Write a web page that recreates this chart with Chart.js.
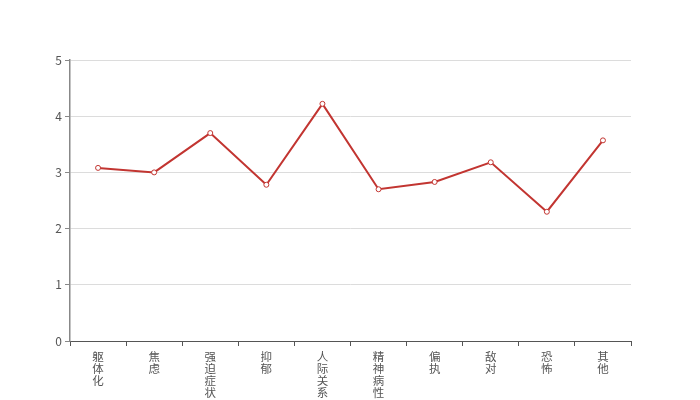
<!DOCTYPE html>
<html>
<head>
<meta charset="utf-8">
<script src="https://cdn.jsdelivr.net/npm/chart.js@4"></script>
<style>
  html, body { margin: 0; padding: 0; background: #fff; }
  #box { width: 700px; height: 400px; }
</style>
</head>
<body>
<div id="box"><canvas id="lineChart"></canvas></div>
<script>
// Categories and values
const categories = ['躯体化', '焦虑', '强迫症状', '抑郁', '人际关系', '精神病性', '偏执', '敌对', '恐怖', '其他'];
const scores = [3.08, 3.00, 3.70, 2.78, 4.22, 2.70, 2.83, 3.18, 2.30, 3.57];
const yTicks = [0, 1, 2, 3, 4, 5];

const fontFamily = '"Noto Sans CJK SC", "Noto Sans", sans-serif';

// vertical labels: one character per line
const stackedLabels = categories.map(c => c.split(''));

const config = {
    type: 'line',
    data: {
        labels: stackedLabels,
        datasets: [{
            data: scores,
            borderColor: '#c23531',
            borderWidth: 2,
            backgroundColor: '#fff',
            pointBackgroundColor: '#fff',
            pointBorderColor: '#c23531',
            pointBorderWidth: 1,
            pointRadius: 2.5,
            tension: 0
        }]
    },
    options: {
        responsive: true,
        maintainAspectRatio: false,
        animation: false,
        layout: {
            padding: { top: 60, right: 69, left: 0, bottom: 0 }
        },
        plugins: {
            legend: { display: false },
            tooltip: { enabled: false }
        },
        scales: {
            x: {
                offset: true,
                grid: {
                    offset: true,
                    drawOnChartArea: false,
                    tickLength: 5,
                    tickColor: '#555'
                },
                border: { color: '#555', width: 1 },
                ticks: {
                    color: '#555',
                    padding: 4,
                    maxRotation: 0,
                    autoSkip: false,
                    font: { family: fontFamily, size: 11.5, lineHeight: 1.07 }
                },
                afterFit: function(scale) {
                    scale.height = 59;
                }
            },
            y: {
                min: 0,
                max: 5,
                afterBuildTicks: function(scale) {
                    scale.ticks = yTicks.map(v => ({ value: v }));
                },
                grid: {
                    color: '#dcdcdc',
                    tickLength: 5,
                    tickColor: '#888'
                },
                border: { color: '#888', width: 1.5 },
                ticks: {
                    color: '#555',
                    padding: 3,
                    font: { family: fontFamily, size: 12 }
                },
                afterFit: function(scale) {
                    scale.width = 70;
                }
            }
        }
    }
};

const lineChart = new Chart(document.getElementById('lineChart'), config);
</script>
</body>
</html>
